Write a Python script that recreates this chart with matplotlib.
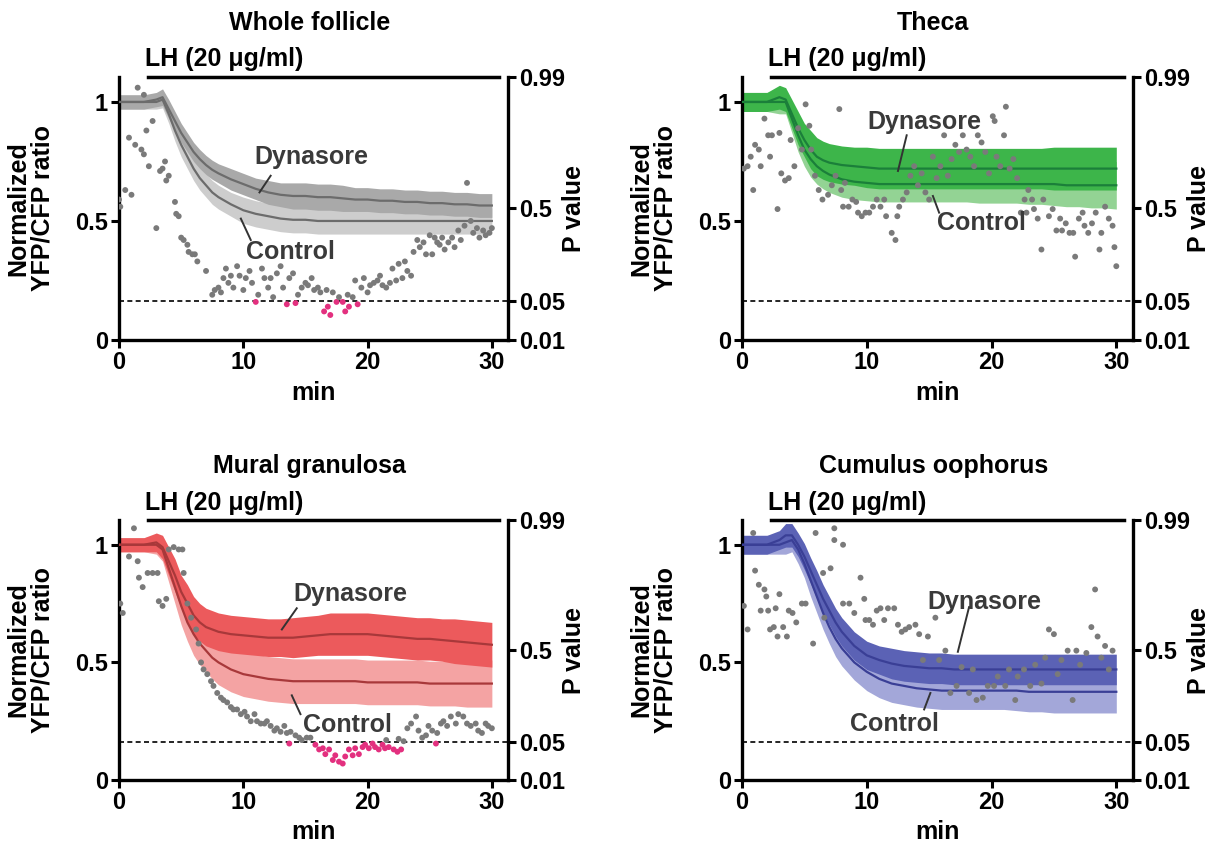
import matplotlib
matplotlib.use("Agg")
import matplotlib.pyplot as plt
import numpy as np

plt.rcParams['font.family'] = ['Liberation Sans', 'DejaVu Sans']
plt.rcParams['font.weight'] = 'bold'
plt.rcParams['axes.labelweight'] = 'bold'

# time points of the averaged traces (min)
time = [0, 1, 2, 3, 3.5, 4, 4.5, 5, 5.5, 6, 6.5, 7, 7.5, 8, 9, 10, 11, 12, 13, 14,
        15, 16, 17, 18, 19, 20, 21, 22, 23, 24, 25, 26, 27, 28, 29, 30]

# Whole follicle
wf_dyn = [1.0, 1.0, 1.0, 1.01, 1.02, 0.97, 0.92, 0.87, 0.83, 0.79, 0.76, 0.735, 0.715, 0.70, 0.675, 0.655, 0.635, 0.62, 0.61, 0.605,
          0.605, 0.60, 0.60, 0.595, 0.59, 0.59, 0.585, 0.585, 0.58, 0.58, 0.575, 0.575, 0.57, 0.57, 0.565, 0.565]
wf_dyn_err = [0.03, 0.03, 0.03, 0.03, 0.035, 0.04, 0.04, 0.04, 0.04, 0.04, 0.04, 0.04, 0.04, 0.04, 0.045, 0.045, 0.045, 0.05, 0.05, 0.055,
              0.055, 0.055, 0.055, 0.055, 0.05, 0.05, 0.05, 0.05, 0.05, 0.05, 0.05, 0.05, 0.05, 0.05, 0.05, 0.05]
wf_ctl = [1.0, 1.0, 1.0, 1.0, 1.01, 0.95, 0.88, 0.82, 0.77, 0.72, 0.68, 0.65, 0.62, 0.60, 0.57, 0.545, 0.53, 0.52, 0.51, 0.505,
          0.505, 0.50, 0.50, 0.50, 0.50, 0.50, 0.50, 0.50, 0.50, 0.50, 0.50, 0.50, 0.50, 0.50, 0.50, 0.50]
wf_ctl_err = [0.03, 0.03, 0.03, 0.03, 0.035, 0.04, 0.045, 0.05, 0.05, 0.05, 0.05, 0.05, 0.05, 0.05, 0.05, 0.055, 0.055, 0.055, 0.055, 0.055,
              0.055, 0.055, 0.055, 0.055, 0.055, 0.055, 0.055, 0.055, 0.055, 0.055, 0.055, 0.055, 0.055, 0.055, 0.055, 0.055]
wf_p_t = [0.0, 0.1, 0.5, 1.0, 0.8, 1.5, 1.3, 1.8, 2.0, 2.0, 2.2, 2.4, 2.7, 3.0, 3.3, 3.5, 3.7, 3.8, 4.0, 4.5,
          4.6, 4.8, 5.0, 5.2, 5.5, 5.6, 5.9, 6.1, 6.3, 7.0, 7.5, 7.7, 8.0, 8.2, 8.4, 8.6, 8.8, 9.0, 9.2, 9.5,
          9.7, 10.0, 10.2, 10.5, 10.7, 11.0, 11.2, 11.5, 11.7, 12.0, 12.2, 12.4, 12.7, 13.0, 13.2, 13.5, 13.7, 14.0, 14.2, 14.4,
          14.7, 15.0, 15.2, 15.5, 15.7, 16.0, 16.2, 16.5, 16.7, 16.8, 17.0, 17.2, 17.5, 17.7, 18.0, 18.2, 18.4, 18.5, 18.8, 19.0,
          19.2, 19.5, 19.7, 20.0, 20.2, 20.5, 20.8, 21.0, 21.2, 21.5, 21.8, 22.0, 22.3, 22.5, 22.8, 23.0, 23.2, 23.5, 23.7, 24.0,
          24.2, 24.5, 24.7, 25.0, 25.2, 25.4, 25.6, 25.8, 26.0, 26.2, 26.5, 26.8, 27.0, 27.3, 27.5, 27.8, 28.0, 28.3, 28.5, 28.8,
          29.0, 29.3, 29.5, 29.8, 30.0]
wf_p = [0.59, 0.56, 0.63, 0.61, 0.85, 1.06, 0.82, 0.80, 0.78, 1.03, 0.88, 0.73, 0.92, 0.47, 0.71, 0.72, 0.75, 0.67, 0.69, 0.58,
        0.53, 0.52, 0.43, 0.42, 0.40, 0.37, 0.36, 0.36, 0.33, 0.29, 0.19, 0.21, 0.22, 0.20, 0.26, 0.30, 0.24, 0.27, 0.22, 0.31,
        0.27, 0.21, 0.26, 0.29, 0.24, 0.16, 0.19, 0.30, 0.26, 0.22, 0.26, 0.18, 0.28, 0.31, 0.22, 0.15, 0.26, 0.28, 0.155, 0.19,
        0.22, 0.24, 0.23, 0.26, 0.21, 0.22, 0.20, 0.12, 0.21, 0.14, 0.105, 0.20, 0.16, 0.18, 0.16, 0.12, 0.19, 0.14, 0.18, 0.25,
        0.15, 0.22, 0.26, 0.20, 0.23, 0.24, 0.25, 0.27, 0.23, 0.22, 0.24, 0.30, 0.25, 0.32, 0.26, 0.33, 0.29, 0.27, 0.37, 0.42,
        0.39, 0.41, 0.36, 0.44, 0.36, 0.43, 0.41, 0.40, 0.43, 0.38, 0.41, 0.43, 0.39, 0.46, 0.42, 0.48, 0.66, 0.50, 0.45, 0.47,
        0.43, 0.46, 0.44, 0.45, 0.47]

# Theca
th_dyn = [1.0, 1.0, 1.0, 1.02, 1.01, 0.95, 0.89, 0.84, 0.80, 0.77, 0.755, 0.745, 0.74, 0.735, 0.73, 0.725, 0.72, 0.72, 0.72, 0.72,
          0.72, 0.72, 0.72, 0.72, 0.72, 0.72, 0.72, 0.72, 0.72, 0.72, 0.72, 0.72, 0.72, 0.72, 0.72, 0.72]
th_dyn_err = [0.04, 0.04, 0.04, 0.05, 0.05, 0.06, 0.07, 0.07, 0.08, 0.08, 0.08, 0.08, 0.08, 0.08, 0.08, 0.085, 0.085, 0.085, 0.085, 0.085,
              0.085, 0.085, 0.085, 0.085, 0.085, 0.085, 0.085, 0.085, 0.085, 0.085, 0.09, 0.09, 0.09, 0.09, 0.09, 0.09]
th_ctl = [1.0, 1.0, 1.0, 1.0, 1.0, 0.93, 0.86, 0.80, 0.76, 0.73, 0.71, 0.695, 0.685, 0.675, 0.665, 0.66, 0.655, 0.655, 0.655, 0.655,
          0.655, 0.655, 0.655, 0.655, 0.655, 0.655, 0.655, 0.655, 0.655, 0.655, 0.655, 0.65, 0.65, 0.65, 0.65, 0.65]
th_ctl_err = [0.04, 0.04, 0.04, 0.05, 0.05, 0.06, 0.07, 0.07, 0.075, 0.075, 0.075, 0.075, 0.075, 0.075, 0.075, 0.075, 0.075, 0.075, 0.075, 0.075,
              0.075, 0.075, 0.075, 0.075, 0.08, 0.08, 0.08, 0.08, 0.085, 0.085, 0.09, 0.09, 0.09, 0.095, 0.095, 0.10]
th_p_t = [0.15, 0.45, 0.7, 0.9, 1.05, 1.35, 1.5, 1.8, 2.1, 2.25, 2.4, 2.85, 3.0, 3.15, 3.45, 3.75, 3.9, 4.2, 4.5, 4.8,
          5.1, 5.4, 5.55, 5.85, 6.15, 6.45, 6.9, 7.2, 7.5, 7.8, 7.95, 8.1, 8.25, 8.55, 8.85, 9.15, 9.3, 9.6, 9.9, 10.2,
          10.5, 10.8, 11.1, 11.4, 11.55, 12.0, 12.3, 12.45, 12.6, 12.9, 13.2, 13.5, 13.8, 14.1, 14.4, 14.7, 15.0, 15.3, 15.6, 15.9,
          16.2, 16.5, 16.8, 17.1, 17.4, 17.7, 18.0, 18.3, 18.6, 18.9, 19.2, 19.5, 19.8, 20.1, 20.25, 20.4, 20.7, 21.0, 21.15, 21.45,
          21.75, 22.05, 22.35, 22.65, 22.8, 22.95, 23.25, 23.4, 23.7, 24.0, 24.15, 24.6, 24.9, 25.2, 25.5, 25.65, 25.95, 26.25, 26.55, 26.7,
          27.0, 27.3, 27.45, 27.75, 28.05, 28.35, 28.65, 28.8, 29.1, 29.4, 29.7, 29.85, 30.0]
th_p = [0.72, 0.73, 0.77, 0.63, 0.82, 0.80, 0.73, 0.93, 0.86, 0.77, 0.86, 0.55, 0.87, 0.70, 0.67, 0.68, 0.84, 0.73, 0.89, 0.80,
        0.99, 0.90, 0.80, 0.69, 0.63, 0.59, 0.61, 0.65, 0.69, 0.97, 0.63, 0.56, 0.66, 0.56, 0.59, 0.58, 0.535, 0.52, 0.535, 0.535,
        0.56, 0.59, 0.56, 0.59, 0.52, 0.45, 0.42, 0.52, 0.56, 0.59, 0.62, 0.69, 0.73, 0.65, 0.70, 0.62, 0.59, 0.77, 0.68, 0.73,
        0.86, 0.69, 0.76, 0.82, 0.79, 0.86, 0.80, 0.77, 0.73, 0.86, 0.83, 0.79, 0.70, 0.94, 0.92, 0.77, 0.73, 0.86, 0.98, 0.72,
        0.76, 0.68, 0.535, 0.59, 0.535, 0.63, 0.59, 0.55, 0.51, 0.38, 0.59, 0.52, 0.55, 0.46, 0.51, 0.46, 0.49, 0.45, 0.45, 0.35,
        0.51, 0.535, 0.48, 0.45, 0.49, 0.535, 0.38, 0.45, 0.56, 0.51, 0.48, 0.39, 0.31]

# Mural granulosa
mg_dyn = [1.0, 1.0, 1.0, 1.01, 0.99, 0.93, 0.87, 0.80, 0.75, 0.70, 0.67, 0.65, 0.64, 0.63, 0.62, 0.615, 0.61, 0.605, 0.605, 0.605,
          0.61, 0.615, 0.62, 0.62, 0.62, 0.62, 0.615, 0.61, 0.605, 0.60, 0.60, 0.595, 0.59, 0.585, 0.58, 0.575]
mg_dyn_err = [0.03, 0.03, 0.03, 0.04, 0.05, 0.06, 0.07, 0.07, 0.08, 0.08, 0.08, 0.08, 0.08, 0.08, 0.08, 0.08, 0.08, 0.08, 0.08, 0.085,
              0.085, 0.085, 0.09, 0.09, 0.09, 0.09, 0.09, 0.09, 0.09, 0.09, 0.09, 0.09, 0.095, 0.095, 0.095, 0.095]
mg_ctl = [1.0, 1.0, 1.0, 1.0, 0.98, 0.90, 0.82, 0.74, 0.67, 0.62, 0.58, 0.55, 0.52, 0.50, 0.47, 0.45, 0.44, 0.43, 0.425, 0.42,
          0.42, 0.42, 0.42, 0.42, 0.42, 0.415, 0.415, 0.415, 0.415, 0.415, 0.41, 0.41, 0.41, 0.41, 0.41, 0.41]
mg_ctl_err = [0.03, 0.03, 0.03, 0.04, 0.05, 0.06, 0.07, 0.08, 0.08, 0.09, 0.09, 0.09, 0.09, 0.095, 0.095, 0.095, 0.095, 0.095, 0.095, 0.095,
              0.095, 0.095, 0.095, 0.095, 0.095, 0.095, 0.095, 0.095, 0.095, 0.095, 0.095, 0.095, 0.095, 0.10, 0.10, 0.10]
mg_p_t = [0.1, 0.3, 0.8, 1.2, 1.5, 1.6, 1.9, 2.3, 2.7, 3.1, 3.2, 3.5, 3.8, 4.0, 4.4, 4.8, 5.1, 5.2, 5.5, 5.8,
          6.2, 6.4, 6.6, 6.8, 7.1, 7.4, 7.6, 7.9, 8.2, 8.4, 8.7, 9.0, 9.2, 9.5, 9.8, 10.1, 10.3, 10.6, 10.9, 11.1,
          11.4, 11.7, 11.9, 12.2, 12.5, 12.7, 13.0, 13.3, 13.5, 13.7, 13.8, 14.2, 14.5, 14.7, 15.1, 15.4, 15.8, 16.1, 16.4, 16.6,
          16.9, 17.2, 17.4, 17.7, 18.0, 18.2, 18.5, 18.8, 19.0, 19.3, 19.6, 19.8, 20.1, 20.4, 20.6, 20.9, 21.2, 21.4, 21.7, 22.1,
          22.4, 22.7, 21.5, 22.5, 22.9, 23.2, 23.5, 23.9, 24.1, 24.4, 24.7, 24.9, 25.2, 25.5, 25.6, 25.9, 26.1, 26.4, 26.7, 27.1,
          27.3, 27.7, 28.0, 28.3, 28.7, 28.9, 29.2, 29.5, 29.7, 30.0]
mg_p = [0.75, 0.71, 0.95, 1.07, 0.93, 0.86, 0.82, 0.88, 0.88, 0.88, 0.76, 0.74, 0.77, 0.98, 0.99, 0.98, 0.98, 0.88, 0.75, 0.69,
        0.64, 0.58, 0.50, 0.47, 0.45, 0.42, 0.40, 0.37, 0.35, 0.34, 0.33, 0.31, 0.30, 0.30, 0.28, 0.29, 0.27, 0.25, 0.28, 0.25,
        0.24, 0.24, 0.25, 0.23, 0.21, 0.22, 0.205, 0.23, 0.20, 0.155, 0.205, 0.19, 0.18, 0.17, 0.18, 0.18, 0.15, 0.13, 0.135, 0.11,
        0.13, 0.085, 0.105, 0.078, 0.07, 0.10, 0.13, 0.105, 0.135, 0.11, 0.14, 0.15, 0.135, 0.155, 0.14, 0.13, 0.15, 0.135, 0.14, 0.13,
        0.12, 0.13, 0.17, 0.175, 0.165, 0.22, 0.24, 0.27, 0.21, 0.18, 0.19, 0.23, 0.21, 0.155, 0.20, 0.24, 0.25, 0.23, 0.27, 0.24,
        0.28, 0.27, 0.24, 0.23, 0.24, 0.21, 0.20, 0.24, 0.23, 0.22]

# Cumulus oophorus
co_dyn = [1.0, 1.0, 1.0, 1.02, 1.04, 1.04, 1.0, 0.95, 0.89, 0.83, 0.77, 0.72, 0.67, 0.63, 0.57, 0.53, 0.51, 0.495, 0.485, 0.48,
          0.475, 0.475, 0.47, 0.47, 0.47, 0.47, 0.47, 0.47, 0.47, 0.47, 0.47, 0.47, 0.47, 0.47, 0.47, 0.47]
co_dyn_err = [0.04, 0.04, 0.04, 0.04, 0.05, 0.05, 0.05, 0.055, 0.055, 0.06, 0.06, 0.06, 0.06, 0.06, 0.06, 0.06, 0.06, 0.065, 0.065, 0.065,
              0.065, 0.065, 0.065, 0.065, 0.065, 0.065, 0.065, 0.065, 0.065, 0.065, 0.065, 0.065, 0.065, 0.065, 0.065, 0.065]
co_ctl = [1.0, 1.0, 1.0, 1.0, 1.01, 1.02, 0.98, 0.92, 0.85, 0.78, 0.71, 0.65, 0.60, 0.56, 0.50, 0.46, 0.43, 0.41, 0.40, 0.39,
          0.385, 0.38, 0.38, 0.38, 0.38, 0.38, 0.38, 0.38, 0.375, 0.375, 0.375, 0.375, 0.375, 0.375, 0.375, 0.375]
co_ctl_err = [0.04, 0.04, 0.04, 0.04, 0.05, 0.05, 0.06, 0.06, 0.07, 0.07, 0.07, 0.07, 0.075, 0.075, 0.075, 0.08, 0.08, 0.08, 0.08, 0.08,
              0.08, 0.08, 0.08, 0.08, 0.08, 0.08, 0.08, 0.085, 0.085, 0.085, 0.09, 0.09, 0.09, 0.09, 0.09, 0.09]
co_p_t = [0.15, 0.45, 0.9, 1.05, 1.35, 1.5, 1.8, 1.95, 2.1, 2.25, 2.55, 2.7, 2.85, 3.0, 3.3, 3.6, 3.75, 4.05, 4.35, 4.8,
          5.1, 5.7, 5.9, 6.5, 6.6, 7.1, 7.4, 7.4, 8.1, 8.1, 8.6, 9.0, 9.5, 9.8, 9.9, 10.2, 10.5, 10.8, 11.1, 11.4,
          11.7, 12.2, 12.5, 12.8, 13.1, 13.4, 13.9, 14.2, 14.5, 14.9, 15.5, 15.8, 16.3, 16.7, 17.2, 17.6, 18.2, 18.5, 18.8, 19.3,
          19.7, 20.2, 20.5, 21.1, 21.4, 21.9, 22.1, 22.6, 23.1, 23.5, 24.0, 24.3, 24.6, 25.0, 25.3, 25.6, 26.1, 26.5, 26.8, 27.1,
          27.6, 28.0, 28.3, 28.5, 28.8, 29.1, 29.4, 29.7]
co_p = [0.74, 0.64, 1.05, 0.89, 0.83, 0.72, 0.81, 0.78, 0.72, 0.64, 0.65, 0.73, 0.61, 0.79, 0.65, 0.61, 0.72, 0.71, 0.67, 0.75,
        0.75, 0.58, 1.05, 0.88, 0.69, 0.90, 1.07, 1.02, 1.00, 0.75, 0.75, 0.71, 0.86, 0.77, 0.68, 0.68, 0.66, 0.72, 0.73, 0.68,
        0.73, 0.73, 0.66, 0.63, 0.64, 0.65, 0.66, 0.62, 0.51, 0.61, 0.69, 0.51, 0.55, 0.37, 0.40, 0.48, 0.37, 0.47, 0.34, 0.35,
        0.40, 0.40, 0.44, 0.40, 0.47, 0.34, 0.44, 0.47, 0.40, 0.49, 0.41, 0.52, 0.64, 0.62, 0.45, 0.51, 0.55, 0.34, 0.55, 0.49,
        0.54, 0.65, 0.81, 0.61, 0.52, 0.57, 0.47, 0.55]

# probit positions of the P value ticks (0.01, 0.05, 0.5, 0.99)
p_labels = ['0.01', '0.05', '0.5', '0.99']
p_z = [-2.326, -1.645, 0.0, 2.326]
ytop = 1.105


def p_pos(z):
    return (np.array(z) + 2.326) / 4.652 * ytop


panels = [
    dict(title='Whole follicle', rect=[0.0983, 0.5967, 0.3212, 0.312],
         dyn=wf_dyn, dyn_err=wf_dyn_err, ctl=wf_ctl, ctl_err=wf_ctl_err, pt=wf_p_t, p=wf_p,
         c_dyn='#a9a9a9', c_ctl='#cdcdcd', c_line='#6c6c6c',
         dyn_txt=(15.5, 0.77), dyn_ln=[(12.2, 11.3), (0.69, 0.62)],
         ctl_txt=(13.8, 0.37), ctl_ln=[(10.6, 9.8), (0.42, 0.51)]),
    dict(title='Theca', rect=[0.6127, 0.5967, 0.3225, 0.312],
         dyn=th_dyn, dyn_err=th_dyn_err, ctl=th_ctl, ctl_err=th_ctl_err, pt=th_p_t, p=th_p,
         c_dyn='#3db54a', c_ctl='#93d394', c_line='#1b7f3a',
         dyn_txt=(14.6, 0.915), dyn_ln=[(13.2, 12.5), (0.86, 0.71)],
         ctl_txt=(19.2, 0.49), ctl_ln=[(15.8, 15.3), (0.535, 0.605)]),
    dict(title='Mural granulosa', rect=[0.0983, 0.0747, 0.3212, 0.3084],
         dyn=mg_dyn, dyn_err=mg_dyn_err, ctl=mg_ctl, ctl_err=mg_ctl_err, pt=mg_p_t, p=mg_p,
         c_dyn='#ec5a5c', c_ctl='#f4a3a3', c_line='#a8383a',
         dyn_txt=(18.6, 0.79), dyn_ln=[(14.3, 13.1), (0.73, 0.64)],
         ctl_txt=(18.4, 0.235), ctl_ln=[(14.6, 13.9), (0.28, 0.36)]),
    dict(title='Cumulus oophorus', rect=[0.6127, 0.0747, 0.3225, 0.3084],
         dyn=co_dyn, dyn_err=co_dyn_err, ctl=co_ctl, ctl_err=co_ctl_err, pt=co_p_t, p=co_p,
         c_dyn='#5b62b5', c_ctl='#a3a7d9', c_line='#3a3f96',
         dyn_txt=(19.4, 0.757), dyn_ln=[(18.2, 17.3), (0.735, 0.545)],
         ctl_txt=(12.2, 0.24), ctl_ln=[(14.6, 15.1), (0.30, 0.37)]),
]

fig = plt.figure(figsize=(12.11, 8.43), dpi=100)
fs = 18      # titles, annotations
tfs = 17     # tick labels
sig = p_pos(p_z[1])

for pan in panels:
    ax = fig.add_axes(pan['rect'])
    t = np.array(time)
    dyn = np.array(pan['dyn'])
    ctl = np.array(pan['ctl'])
    ax.fill_between(t, ctl - np.array(pan['ctl_err']), ctl + np.array(pan['ctl_err']),
                    color=pan['c_ctl'], lw=0, zorder=1)
    ax.fill_between(t, dyn - np.array(pan['dyn_err']), dyn + np.array(pan['dyn_err']),
                    color=pan['c_dyn'], lw=0, zorder=2)
    ax.plot(t, ctl, color=pan['c_line'], lw=1.6, zorder=3)
    ax.plot(t, dyn, color=pan['c_line'], lw=1.6, zorder=3)

    # P values, pink when below 0.05
    pv = np.array(pan['p'])
    cols = np.where(pv < sig, '#e3307f', '#7a7a7a')
    ax.scatter(pan['pt'], pv, s=18, c=cols, lw=0, zorder=5)
    ax.plot([0, 31.3], [sig, sig], ls=(0, (3, 2)), color='black', lw=1.2, zorder=4)

    # annotations
    ax.text(pan['dyn_txt'][0], pan['dyn_txt'][1], 'Dynasore', ha='center', va='center',
            fontsize=fs, color='#3a3a3a', zorder=6)
    ax.plot(*pan['dyn_ln'], color='#333333', lw=1.4, zorder=6)
    ax.text(pan['ctl_txt'][0], pan['ctl_txt'][1], 'Control', ha='center', va='center',
            fontsize=fs, color='#3a3a3a', zorder=6)
    ax.plot(*pan['ctl_ln'], color='#333333', lw=1.4, zorder=6)

    # LH bar
    ax.plot([2.35, 30.6], [ytop, ytop], color='black', lw=2.5, clip_on=False, zorder=6)
    ax.text(2.1, 1.04, 'LH (20 μg/ml)', transform=ax.get_xaxis_transform(),
            fontsize=fs, ha='left', va='baseline')
    ax.text(0.49, 1.18, pan['title'], transform=ax.transAxes, fontsize=fs,
            ha='center', va='baseline')

    ax.set_xlim(0, 31.3)
    ax.set_ylim(0, ytop)
    ax.set_xticks([0, 10, 20, 30])
    ax.set_yticks([0, 0.5, 1])
    ax.set_yticklabels(['0', '0.5', '1'])
    ax.spines['top'].set_visible(False)
    ax.spines['right'].set_visible(False)
    for s in ['left', 'bottom']:
        ax.spines[s].set_linewidth(2.4)
    ax.tick_params(width=2.2, length=6, labelsize=tfs, pad=2)
    ax.set_xlabel('min', fontsize=fs)
    ax.xaxis.set_label_coords(0.5, -0.155)
    ax.set_ylabel('Normalized\nYFP/CFP ratio', fontsize=fs, linespacing=1.0)
    ax.yaxis.set_label_coords(-0.165, 0.5)

    ax2 = ax.twinx()
    ax2.set_ylim(0, ytop)
    ax2.set_yticks(p_pos(p_z))
    ax2.set_yticklabels(p_labels)
    for s in ['left', 'top', 'bottom']:
        ax2.spines[s].set_visible(False)
    ax2.spines['right'].set_linewidth(2.4)
    ax2.tick_params(width=2.2, length=6, labelsize=tfs, pad=2)
    ax2.set_ylabel('P value', fontsize=fs)
    ax2.yaxis.set_label_coords(1.14, 0.5)

fig.savefig('out.png', dpi=100)
